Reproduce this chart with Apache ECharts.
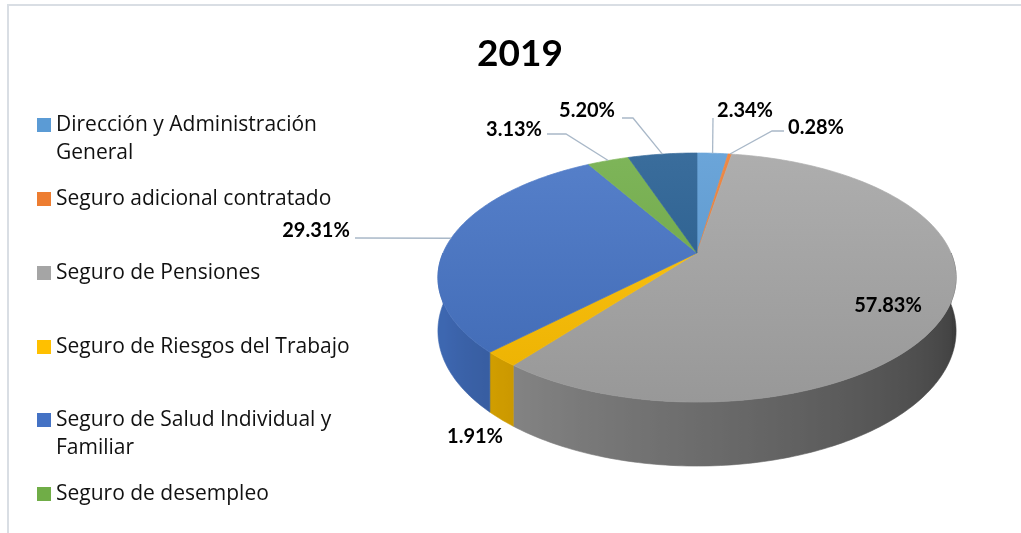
<!DOCTYPE html>
<html><head><meta charset="utf-8">
<script src="https://cdn.jsdelivr.net/npm/echarts@6/dist/echarts.min.js"></script>
<style>html,body{margin:0;padding:0;background:#fff}#c{width:1021px;height:533px}</style>
</head><body><div id="c"></div>
<script>
// ---- data ----
const chartTitle = '2019';
const categories = ['Dirección y Administración General','Seguro adicional contratado','Seguro de Pensiones','Seguro de Riesgos del Trabajo','Seguro de Salud Individual y Familiar','Seguro de desempleo','Otros'];
const values = [2.34, 0.28, 57.83, 1.91, 29.31, 3.13, 5.20];
const legendNames = categories.slice(0, 6);
const colors = ['#5B9BD5','#ED7D31','#A5A5A5','#FFC000','#4472C4','#70AD47','#255E91'];

// ---- layout (not data) ----
const PIE = {cx:697, cy:253, r:254, ry:119.7, k:0.197, h:51.4};
const labelLayout = [
  {at:[745,111], path:[[713,118]]},
  {at:[816,128], path:[[772,131],[784,131]]},
  {at:[888,306], path:null},
  {at:[475,437], path:null},
  {at:[316,231], path:[[355,238]]},
  {at:[514,130], path:[[566,134],[547,134]]},
  {at:[587,111], path:[[633,118],[622,118]]}
];
const legendIconY = [125,199,273,347,420,494];

function proj(deg, depth){
  const t = deg*Math.PI/180;
  const u = Math.sin(t), v = -Math.cos(t);
  const s = 1/(1 - PIE.k*v);
  return [PIE.cx + PIE.r*u*s, PIE.cy + PIE.ry*v*s + depth*s];
}
function hexRgb(h){return [parseInt(h.slice(1,3),16),parseInt(h.slice(3,5),16),parseInt(h.slice(5,7),16)];}
function shade(h,f){
  const c = hexRgb(h).map(x=>Math.max(0,Math.min(255,Math.round(f>1? x+(255-x)*(f-1)*1.2 : x*f))));
  return 'rgb('+c.join(',')+')';
}
function sideFactor(deg){ return Math.max(0.36, Math.min(0.9, 0.36 + 0.0037*(deg-100))); }
function wrap(name, max){
  const words = name.split(' '); const lines=[]; let cur='';
  words.forEach(w=>{ const t = cur? cur+' '+w : w; if (t.length>max && cur){lines.push(cur); cur=w;} else cur=t; });
  if (cur) lines.push(cur); return lines;
}
const total = values.reduce((a,b)=>a+b,0);

function makeRender(i){
  return function(params, api){
    let before = 0; for (let j=0;j<i;j++) before += values[j];
    const val = api.value(0);
    const a0 = before/total*360, a1 = (before+val)/total*360;
    const children = [];
    const s0 = Math.max(a0,90), s1 = Math.min(a1,270);
    if (s1 > s0){
      const n = Math.max(2, Math.ceil(s1-s0));
      const top = [], bot = [], samples = [];
      for (let q=0;q<=n;q++){
        const th = s0+(s1-s0)*q/n;
        const p = proj(th,0);
        top.push(p); bot.push(proj(th,PIE.h));
        samples.push([p[0], shade(colors[i], sideFactor(th))]);
      }
      const xs = samples.map(s=>s[0]);
      const xmin = Math.min.apply(null,xs), xmax = Math.max.apply(null,xs);
      let fill;
      if (xmax - xmin < 1) fill = samples[0][1];
      else {
        const stops = samples.map(s=>({offset:(s[0]-xmin)/(xmax-xmin), color:s[1]})).sort((a,b)=>a.offset-b.offset);
        fill = {type:'linear', x:xmin, y:0, x2:xmax, y2:0, global:true, colorStops:stops};
      }
      children.push({type:'polygon', shape:{points:top.concat(bot.reverse())},
        style:{fill:fill, stroke:fill, lineWidth:0.6}, z2:1});
    }
    const pts = [[PIE.cx, PIE.cy]];
    const m = Math.max(2, Math.ceil(a1-a0));
    for (let q=0;q<=m;q++) pts.push(proj(a0+(a1-a0)*q/m, 0));
    const grad = {type:'linear', x:0, y:153, x2:0, y2:402, global:true,
      colorStops:[{offset:0,color:shade(colors[i],1.08)},{offset:1,color:shade(colors[i],0.92)}]};
    children.push({type:'polygon', shape:{points:pts}, style:{fill:grad, stroke:grad, lineWidth:0.7}, z2:5});
    const L = labelLayout[i];
    if (L.path){
      const mid = (a0+a1)/2;
      children.push({type:'polyline', shape:{points:[proj(mid,0)].concat(L.path)},
        style:{stroke:'#A9B8C8', lineWidth:1.3, fill:null}, z2:9});
    }
    children.push({type:'text', x:L.at[0], y:L.at[1], style:{text:(val/total*100).toFixed(2)+'%',
      fontFamily:'Lato', fontWeight:'bold', fontSize:20, fill:'#000', align:'center', verticalAlign:'middle'}, z2:10});
    return {type:'group', children};
  };
}

const series = categories.map((name,i)=>({
  type:'custom', name, coordinateSystem:'none', data:[values[i]],
  itemStyle:{color:colors[i]}, renderItem:makeRender(i), silent:true
}));

const legend = legendNames.map((n,i)=>{
  const lines = wrap(n, 29); const two = lines.length>1;
  return {data:[n], left:37, top:legendIconY[i]-(two?42:14), orient:'vertical', padding:0,
    icon:'rect', itemWidth:14, itemHeight:14, selectedMode:false,
    formatter:()=> (two?'\n':'')+lines.join('\n'),
    textStyle:{fontFamily:'Open Sans', fontSize:21, color:'#111', lineHeight:28}};
});

const chart = echarts.init(document.getElementById('c'), null, {renderer:'canvas'});
chart.setOption({
  animation:false,
  backgroundColor:'#fff',
  title:{text:chartTitle, left:515, top:31, textAlign:'center',
    textStyle:{fontFamily:'Lato', fontWeight:'bold', fontSize:37, color:'#000'}},
  legend,
  graphic:[{type:'rect', shape:{x:8, y:5, width:1200, height:700}, style:{fill:null, stroke:'#D9DEE4', lineWidth:2}, silent:true}],
  series
});
</script></body></html>
